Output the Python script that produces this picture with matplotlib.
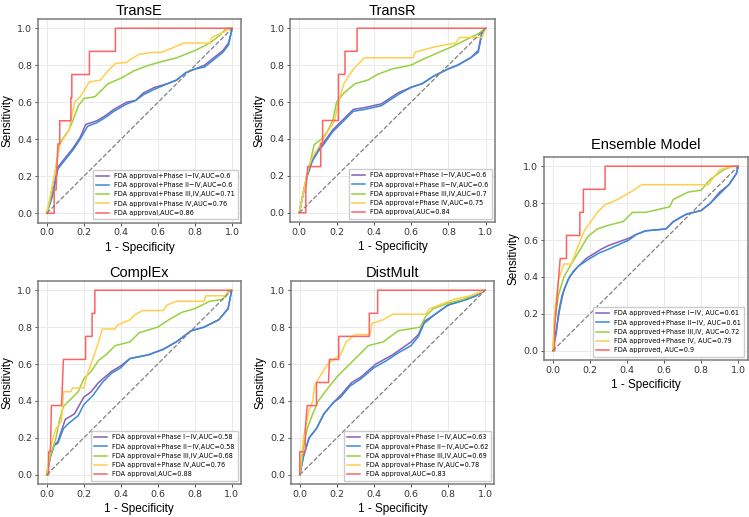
import numpy as np
import matplotlib.pyplot as plt

# ROC points (FPR, TPR)
# ---- TransE ----
transe_p14 = [(0, 0), (0.03, 0.1), (0.06, 0.25), (0.1, 0.3), (0.14, 0.35), (0.18, 0.41), (0.21, 0.48),
              (0.27, 0.5), (0.32, 0.53), (0.36, 0.56), (0.43, 0.6), (0.48, 0.61), (0.52, 0.65), (0.58, 0.68),
              (0.65, 0.7), (0.7, 0.72), (0.75, 0.76), (0.8, 0.78), (0.85, 0.8), (0.9, 0.84), (0.95, 0.88),
              (0.98, 0.92), (1, 1)]
transe_p24 = [(0, 0), (0.03, 0.09), (0.06, 0.24), (0.1, 0.29), (0.14, 0.34), (0.18, 0.4), (0.22, 0.47),
              (0.27, 0.49), (0.32, 0.52), (0.36, 0.55), (0.43, 0.59), (0.48, 0.61), (0.52, 0.64), (0.58, 0.67),
              (0.65, 0.7), (0.7, 0.72), (0.75, 0.76), (0.8, 0.78), (0.85, 0.79), (0.9, 0.83), (0.95, 0.87),
              (0.98, 0.91), (1, 1)]
transe_p34 = [(0, 0), (0.02, 0.08), (0.05, 0.25), (0.07, 0.38), (0.12, 0.45), (0.14, 0.5), (0.17, 0.58),
              (0.2, 0.62), (0.26, 0.63), (0.29, 0.66), (0.33, 0.7), (0.4, 0.73), (0.47, 0.77), (0.55, 0.8),
              (0.62, 0.82), (0.7, 0.84), (0.8, 0.88), (0.88, 0.92), (0.93, 0.96), (0.97, 1.0), (1, 1)]
transe_p4 = [(0, 0), (0.04, 0.2), (0.07, 0.37), (0.12, 0.45), (0.13, 0.5), (0.15, 0.6), (0.18, 0.63),
             (0.23, 0.71), (0.29, 0.72), (0.33, 0.77), (0.37, 0.81), (0.43, 0.815), (0.45, 0.83),
             (0.5, 0.86), (0.58, 0.87), (0.62, 0.87), (0.74, 0.92), (0.88, 0.92), (0.89, 0.95),
             (0.955, 0.98), (0.99, 1.0), (1, 1)]
transe_fda = [(0, 0), (0.04, 0), (0.04, 0.125), (0.05, 0.125), (0.06, 0.375), (0.07, 0.375), (0.07, 0.5),
              (0.13, 0.5), (0.13, 0.625), (0.135, 0.625), (0.135, 0.75), (0.23, 0.75), (0.23, 0.875),
              (0.37, 0.875), (0.37, 1.0), (1, 1)]
transe_auc = [0.6, 0.6, 0.71, 0.76, 0.86]

# ---- TransR ----
transr_p14 = [(0, 0), (0.02, 0.1), (0.04, 0.2), (0.07, 0.29), (0.1, 0.34), (0.13, 0.38), (0.18, 0.45),
              (0.24, 0.51), (0.29, 0.56), (0.35, 0.57), (0.44, 0.59), (0.47, 0.61), (0.53, 0.65),
              (0.6, 0.68), (0.66, 0.7), (0.72, 0.74), (0.8, 0.78), (0.85, 0.8), (0.92, 0.84), (0.96, 0.88),
              (0.98, 0.98), (1, 1)]
transr_p24 = [(0, 0), (0.02, 0.1), (0.04, 0.19), (0.07, 0.28), (0.1, 0.33), (0.13, 0.37), (0.18, 0.44),
              (0.24, 0.5), (0.29, 0.55), (0.35, 0.56), (0.44, 0.58), (0.47, 0.6), (0.53, 0.64),
              (0.6, 0.68), (0.66, 0.7), (0.72, 0.74), (0.8, 0.78), (0.85, 0.8), (0.92, 0.84), (0.96, 0.87),
              (0.98, 0.97), (1, 1)]
transr_p34 = [(0, 0), (0.02, 0.1), (0.04, 0.2), (0.06, 0.28), (0.08, 0.37), (0.12, 0.4), (0.15, 0.44),
              (0.18, 0.5), (0.2, 0.6), (0.24, 0.65), (0.3, 0.7), (0.37, 0.72), (0.42, 0.75), (0.5, 0.78),
              (0.6, 0.8), (0.66, 0.83), (0.75, 0.87), (0.82, 0.9), (0.9, 0.94), (0.96, 0.97), (1, 1)]
transr_p4 = [(0, 0), (0.02, 0.1), (0.05, 0.25), (0.07, 0.3), (0.1, 0.35), (0.14, 0.42), (0.19, 0.5),
             (0.21, 0.6), (0.24, 0.7), (0.27, 0.75), (0.3, 0.79), (0.35, 0.84), (0.61, 0.84), (0.62, 0.87),
             (0.73, 0.9), (0.84, 0.92), (0.86, 0.95), (0.98, 0.95), (1, 1)]
transr_fda = [(0, 0), (0.035, 0), (0.035, 0.125), (0.045, 0.25), (0.115, 0.25), (0.115, 0.375),
              (0.125, 0.375), (0.125, 0.5), (0.21, 0.5), (0.21, 0.75), (0.245, 0.75), (0.245, 0.875),
              (0.31, 0.875), (0.31, 1.0), (1, 1)]
transr_auc = [0.6, 0.6, 0.7, 0.75, 0.84]

# ---- ComplEx ----
complex_p14 = [(0, 0), (0.02, 0.1), (0.04, 0.16), (0.06, 0.18), (0.1, 0.3), (0.15, 0.33), (0.2, 0.42),
               (0.24, 0.45), (0.28, 0.5), (0.35, 0.56), (0.4, 0.59), (0.45, 0.63), (0.55, 0.65),
               (0.63, 0.68), (0.7, 0.72), (0.78, 0.78), (0.85, 0.8), (0.93, 0.84), (0.98, 0.9), (1, 1)]
complex_p24 = [(0, 0), (0.02, 0.1), (0.04, 0.16), (0.06, 0.17), (0.09, 0.25), (0.12, 0.28), (0.17, 0.32),
               (0.2, 0.38), (0.25, 0.43), (0.3, 0.5), (0.35, 0.55), (0.4, 0.58), (0.45, 0.63),
               (0.55, 0.65), (0.63, 0.68), (0.7, 0.72), (0.78, 0.78), (0.85, 0.8), (0.93, 0.84),
               (0.98, 0.9), (1, 1)]
complex_p34 = [(0, 0), (0.02, 0.1), (0.05, 0.2), (0.07, 0.3), (0.09, 0.37), (0.12, 0.4), (0.17, 0.45),
               (0.2, 0.52), (0.24, 0.56), (0.28, 0.62), (0.32, 0.65), (0.37, 0.7), (0.45, 0.72),
               (0.5, 0.77), (0.6, 0.8), (0.66, 0.84), (0.73, 0.88), (0.8, 0.9), (0.88, 0.94),
               (0.95, 0.95), (0.99, 1.0), (1, 1)]
complex_p4 = [(0, 0), (0.02, 0.15), (0.05, 0.25), (0.08, 0.29), (0.09, 0.45), (0.13, 0.45), (0.14, 0.47),
              (0.2, 0.47), (0.22, 0.55), (0.24, 0.6), (0.26, 0.66), (0.28, 0.72), (0.3, 0.79),
              (0.37, 0.79), (0.38, 0.81), (0.45, 0.84), (0.48, 0.87), (0.52, 0.89), (0.63, 0.89),
              (0.65, 0.92), (0.7, 0.94), (0.85, 0.94), (0.86, 0.97), (0.97, 0.97), (0.98, 1.0), (1, 1)]
complex_fda = [(0, 0), (0.01, 0), (0.01, 0.125), (0.02, 0.125), (0.025, 0.375), (0.08, 0.375),
               (0.085, 0.5), (0.09, 0.625), (0.21, 0.625), (0.21, 0.75), (0.245, 0.75), (0.245, 0.875),
               (0.26, 0.875), (0.26, 1.0), (1, 1)]
complex_auc = [0.58, 0.58, 0.68, 0.76, 0.88]

# ---- DistMult ----
distmult_p14 = [(0, 0), (0.02, 0.1), (0.05, 0.2), (0.09, 0.25), (0.13, 0.33), (0.18, 0.39), (0.22, 0.43),
                (0.28, 0.5), (0.33, 0.53), (0.41, 0.6), (0.5, 0.65), (0.6, 0.72), (0.64, 0.76),
                (0.67, 0.83), (0.73, 0.87), (0.8, 0.92), (0.9, 0.95), (0.95, 0.97), (1, 1)]
distmult_p24 = [(0, 0), (0.02, 0.1), (0.05, 0.2), (0.09, 0.25), (0.13, 0.33), (0.18, 0.39), (0.22, 0.42),
                (0.27, 0.48), (0.33, 0.52), (0.4, 0.58), (0.47, 0.62), (0.53, 0.66), (0.6, 0.7),
                (0.64, 0.75), (0.67, 0.82), (0.73, 0.87), (0.8, 0.92), (0.9, 0.95), (0.95, 0.97), (1, 1)]
distmult_p34 = [(0, 0), (0.02, 0.15), (0.04, 0.25), (0.07, 0.33), (0.1, 0.4), (0.16, 0.48), (0.2, 0.53),
                (0.27, 0.6), (0.32, 0.65), (0.37, 0.7), (0.45, 0.72), (0.53, 0.78), (0.65, 0.8),
                (0.68, 0.86), (0.72, 0.9), (0.8, 0.93), (0.88, 0.95), (1, 1)]
distmult_p4 = [(0, 0), (0.02, 0.2), (0.04, 0.3), (0.05, 0.35), (0.07, 0.4), (0.08, 0.48), (0.1, 0.52),
               (0.12, 0.55), (0.15, 0.6), (0.19, 0.63), (0.22, 0.65), (0.25, 0.72), (0.3, 0.76),
               (0.38, 0.76), (0.39, 0.82), (0.45, 0.84), (0.5, 0.87), (0.68, 0.87), (0.7, 0.9),
               (0.83, 0.95), (0.92, 0.97), (1, 1)]
distmult_fda = [(0, 0), (0, 0.125), (0.03, 0.125), (0.03, 0.25), (0.04, 0.375), (0.09, 0.375),
                (0.09, 0.5), (0.155, 0.5), (0.16, 0.625), (0.21, 0.625), (0.21, 0.75), (0.375, 0.75),
                (0.375, 0.875), (0.42, 0.875), (0.42, 1.0), (1, 1)]
distmult_auc = [0.63, 0.62, 0.69, 0.78, 0.83]

# ---- Ensemble ----
ens_p14 = [(0, 0), (0.02, 0.12), (0.04, 0.24), (0.06, 0.33), (0.09, 0.4), (0.13, 0.45), (0.18, 0.5),
           (0.26, 0.55), (0.3, 0.57), (0.41, 0.61), (0.45, 0.63), (0.5, 0.65), (0.61, 0.66), (0.65, 0.7),
           (0.72, 0.74), (0.8, 0.76), (0.85, 0.8), (0.9, 0.86), (0.95, 0.9), (0.99, 0.96), (1, 1)]
ens_p24 = [(0, 0), (0.02, 0.1), (0.03, 0.2), (0.05, 0.3), (0.08, 0.38), (0.11, 0.43), (0.14, 0.46),
           (0.2, 0.5), (0.25, 0.53), (0.3, 0.55), (0.41, 0.6), (0.45, 0.63), (0.5, 0.65), (0.61, 0.66),
           (0.65, 0.7), (0.72, 0.74), (0.8, 0.76), (0.85, 0.8), (0.9, 0.85), (0.95, 0.9), (0.99, 0.96), (1, 1)]
ens_p34 = [(0, 0), (0.01, 0.15), (0.03, 0.3), (0.06, 0.4), (0.1, 0.47), (0.13, 0.52), (0.16, 0.57),
           (0.19, 0.62), (0.24, 0.66), (0.3, 0.68), (0.38, 0.7), (0.43, 0.75), (0.5, 0.75), (0.63, 0.78),
           (0.65, 0.82), (0.73, 0.86), (0.8, 0.87), (0.85, 0.93), (0.92, 0.98), (0.97, 1.0), (1, 1)]
ens_p4 = [(0, 0), (0.01, 0.2), (0.03, 0.38), (0.05, 0.44), (0.06, 0.47), (0.1, 0.47), (0.13, 0.55),
          (0.15, 0.6), (0.17, 0.65), (0.19, 0.68), (0.22, 0.72), (0.24, 0.75), (0.28, 0.79), (0.35, 0.82),
          (0.42, 0.86), (0.48, 0.9), (0.84, 0.9), (0.86, 0.93), (0.9, 0.98), (0.97, 1.0), (1, 1)]
ens_fda = [(0, 0), (0.01, 0), (0.01, 0.125), (0.03, 0.375), (0.04, 0.5), (0.074, 0.5), (0.074, 0.625),
           (0.146, 0.625), (0.146, 0.75), (0.165, 0.75), (0.165, 0.875), (0.282, 0.875), (0.282, 1.0), (1, 1)]
ens_auc = [0.61, 0.61, 0.72, 0.79, 0.9]

colors = ['#8660b8', '#3a8ad6', '#98d040', '#ffcf4a', '#ff6262']


def labels_for(aucs, dash):
    names = ['FDA approval+Phase I' + dash + 'IV', 'FDA approval+Phase II' + dash + 'IV',
             'FDA approval+Phase III,IV', 'FDA approval+Phase IV', 'FDA approval']
    return [f'{n},AUC={a}' for n, a in zip(names, aucs)]


ens_labels = [f'{n}, AUC={a}' for n, a in zip(
    ['FDA approved+Phase I\u2212IV', 'FDA approved+Phase II\u2212IV', 'FDA approved+Phase III,IV',
     'FDA approved+Phase IV', 'FDA approved'], ens_auc)]

# axes boxes in pixels: left, top, width, height, title pad
panels = [
    ('TransE', [transe_p14, transe_p24, transe_p34, transe_p4, transe_fda],
     labels_for(transe_auc, '\u2212'), [37.5, 19, 204, 203.5], 3),
    ('TransR', [transr_p14, transr_p24, transr_p34, transr_p4, transr_fda],
     labels_for(transr_auc, '\u2212'), [290, 19, 205, 203], 3),
    ('ComplEx', [complex_p14, complex_p24, complex_p34, complex_p4, complex_fda],
     labels_for(complex_auc, '~'), [37.5, 281, 203.5, 203], 3),
    ('DistMult', [distmult_p14, distmult_p24, distmult_p34, distmult_p4, distmult_fda],
     labels_for(distmult_auc, '~'), [290.5, 281, 204, 203], 3),
    ('Ensemble Model', [ens_p14, ens_p24, ens_p34, ens_p4, ens_fda], ens_labels,
     [543.5, 157, 204, 203], 6),
]

W, H = 749, 517
fig = plt.figure(figsize=(W / 100, H / 100), dpi=100)
label_font = ['Liberation Sans', 'DejaVu Sans']

for title, curves, labels, (px, py, pw, ph), tpad in panels:
    ax = fig.add_axes([px / W, 1 - (py + ph) / H, pw / W, ph / H])
    for curve, c, lab in zip(curves, colors, labels):
        xs, ys = zip(*curve)
        ax.plot(xs, ys, color=c, lw=1.1, label=lab)
    ax.plot([0, 1], [0, 1], color='grey', ls='--', lw=0.9)
    ax.set_xlim(-0.05, 1.05)
    ax.set_ylim(-0.05, 1.05)
    ax.set_xticks(np.arange(0, 1.01, 0.2))
    ax.set_yticks(np.arange(0, 1.01, 0.2))
    ax.tick_params(labelsize=6.8, length=2.5, width=0.6, pad=1.5, colors='#333333')
    ax.grid(True, color='#e6e6e6', lw=0.6)
    ax.set_axisbelow(True)
    for s in ax.spines.values():
        s.set_color('#7a7a7a')
        s.set_linewidth(1.1)
    ax.set_title(title, fontsize=10.5, pad=tpad, family=label_font)
    ax.set_xlabel('1 - Specificity', fontsize=8.5, labelpad=3.5, family=label_font)
    ax.set_ylabel('Sensitivity', fontsize=8.5, labelpad=2.5, family=label_font)
    ax.legend(loc='lower right', fontsize=4.7, handlelength=2.0, labelspacing=0.5,
              borderpad=0.5, framealpha=1, edgecolor='#cccccc', fancybox=False)

fig.savefig('out.png', dpi=100)
